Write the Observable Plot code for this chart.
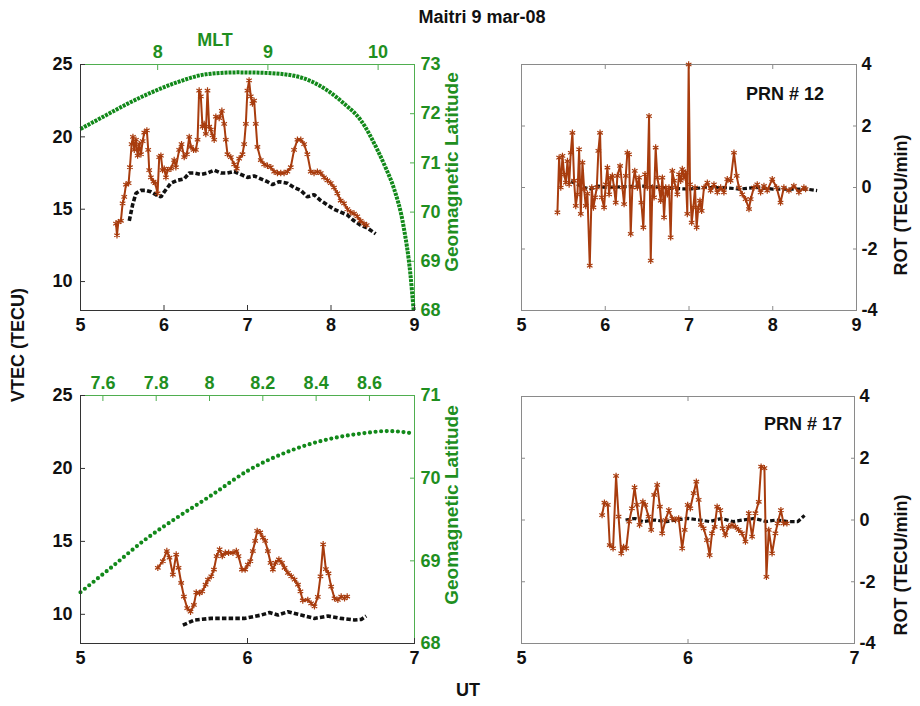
<!DOCTYPE html>
<html><head><meta charset="utf-8">
<script src="https://cdn.jsdelivr.net/npm/d3@7"></script>
<script src="https://cdn.jsdelivr.net/npm/@observablehq/plot@0.6"></script>
<style>
body{margin:0;background:#fff;}
#fig{position:relative;width:920px;height:706px;background:#fff;font-family:'Liberation Sans',Arial,sans-serif;font-weight:bold;}
.lbl{position:absolute;white-space:nowrap;font-weight:bold;transform:translate(-50%,-50%);}
.rot{transform:translate(-50%,-50%) rotate(-90deg);}
</style></head><body><div id="fig"></div>
<script>
// ---------- texts / ticks ----------
const title = "Maitri 9 mar-08";
const utTicksA = [5, 6, 7, 8, 9];
const utTicksB = [5, 6, 7];
const vtecTicks = [10, 15, 20, 25];
const latTicksA = [68, 69, 70, 71, 72, 73];
const latTicksB = [68, 69, 70, 71];
const rotTicks = [-4, -2, 0, 2, 4];
const mltTicksA = [8, 9, 10];
const mltTicksB = [7.6, 7.8, 8, 8.2, 8.4, 8.6];
const mltRangeA = [7.30, 10.33];   // MLT at UT 5 and UT 9 (top-left panel)
const mltRangeB = [7.516, 8.769];  // MLT at UT 5 and UT 7 (bottom-left panel)

// ---------- PRN 12 ----------
const vtec12 = [[5.425,14.0],[5.437,13.2],[5.453,14.1],[5.484,14.2],[5.504,15.4],[5.524,15.85],[5.544,16.7],[5.576,16.8],[5.592,17.9],[5.612,19.5],[5.628,20.0],[5.644,19.1],[5.664,19.8],[5.684,18.7],[5.704,19.5],[5.724,18.8],[5.744,19.7],[5.764,20.3],[5.795,20.45],[5.811,19.1],[5.823,17.7],[5.843,17.2],[5.875,16.9],[5.895,16.8],[5.923,16.1],[5.943,18.6],[5.963,18.7],[5.983,17.7],[6.003,17.8],[6.023,17.2],[6.043,17.7],[6.083,17.8],[6.122,18.4],[6.142,17.9],[6.182,19.1],[6.210,19.5],[6.242,18.6],[6.274,18.8],[6.302,20.0],[6.322,19.3],[6.354,19.1],[6.382,19.1],[6.402,19.8],[6.421,23.2],[6.441,22.8],[6.461,20.7],[6.481,20.9],[6.501,20.2],[6.521,23.2],[6.541,20.7],[6.561,20.5],[6.581,20.1],[6.601,19.8],[6.621,21.4],[6.661,21.3],[6.693,21.8],[6.721,20.9],[6.740,19.8],[6.760,18.8],[6.800,18.6],[6.840,18.1],[6.872,17.8],[6.900,18.5],[6.940,18.8],[6.960,19.5],[6.980,20.9],[6.999,23.2],[7.019,23.9],[7.039,22.8],[7.059,22.3],[7.079,22.5],[7.099,20.9],[7.119,19.3],[7.159,18.4],[7.199,18.1],[7.239,18.0],[7.279,17.9],[7.319,17.6],[7.359,17.5],[7.398,17.5],[7.438,17.5],[7.478,17.6],[7.518,17.9],[7.558,19.1],[7.598,19.8],[7.638,19.8],[7.678,19.5],[7.717,18.8],[7.757,17.6],[7.797,17.5],[7.837,17.6],[7.877,17.5],[7.917,17.2],[7.957,17.0],[7.997,16.8],[8.036,16.5],[8.076,16.1],[8.116,15.6],[8.156,15.4],[8.196,15.0],[8.236,14.8],[8.276,14.7],[8.315,14.5],[8.355,14.2],[8.395,14.0],[8.427,13.9]];
const base12 = [[5.584,14.2],[5.624,15.3],[5.664,16.1],[5.724,16.3],[5.783,16.3],[5.843,16.2],[5.903,16.0],[5.963,15.85],[6.003,16.2],[6.083,16.8],[6.162,17.0],[6.242,17.1],[6.302,17.5],[6.362,17.5],[6.441,17.4],[6.521,17.5],[6.601,17.7],[6.681,17.5],[6.760,17.5],[6.840,17.6],[6.920,17.4],[6.999,17.2],[7.079,17.3],[7.159,17.1],[7.239,16.9],[7.299,16.7],[7.379,16.9],[7.478,16.8],[7.558,16.5],[7.638,16.3],[7.717,15.85],[7.797,16.0],[7.877,15.6],[7.957,15.3],[8.036,15.0],[8.116,14.8],[8.196,14.6],[8.276,14.2],[8.355,13.9],[8.435,13.7],[8.535,13.3]];
const lat12 = [[5.0,71.69],[5.285,71.95],[5.56,72.2],[5.86,72.44],[6.16,72.64],[6.5,72.8],[6.88,72.84],[7.2,72.83],[7.56,72.77],[7.96,72.47],[8.16,72.2],[8.36,71.86],[8.56,71.25],[8.66,70.88],[8.75,70.5],[8.87,69.7],[8.95,68.75],[8.99,68.0]];
const rot12 = [[5.429,-0.81],[5.449,0.97],[5.469,0],[5.489,1.03],[5.509,0.43],[5.529,0.16],[5.549,0.86],[5.569,0.1],[5.588,1.13],[5.608,1.78],[5.628,0.22],[5.648,-0.6],[5.668,-0.22],[5.688,1.24],[5.708,-0.86],[5.728,0.81],[5.748,-0.05],[5.767,-0.6],[5.787,-0.2],[5.815,-2.54],[5.839,0],[5.859,-0.65],[5.879,-0.32],[5.899,0],[5.918,1.19],[5.938,1.78],[5.958,-0.32],[5.986,-0.65],[6.006,0.1],[6.026,0.65],[6.046,-0.22],[6.066,0.32],[6.085,0.38],[6.105,0],[6.125,-0.49],[6.145,0.38],[6.177,0.7],[6.205,0],[6.225,-0.54],[6.245,0.38],[6.264,1.13],[6.284,1.08],[6.304,-1.51],[6.324,0],[6.352,0.54],[6.384,0],[6.404,0.32],[6.431,-0.49],[6.455,-1.3],[6.475,0.43],[6.503,0],[6.523,2.32],[6.543,-2.38],[6.563,0],[6.583,-0.32],[6.602,1.3],[6.622,0.32],[6.642,0],[6.662,-0.43],[6.682,0.32],[6.702,-0.97],[6.722,0],[6.742,-0.22],[6.761,0],[6.781,-1.62],[6.801,0.54],[6.821,0.22],[6.841,0],[6.861,-0.22],[6.881,0.43],[6.901,0.22],[6.920,0.6],[6.940,0.32],[6.960,0.49],[6.980,-0.86],[6.996,4.0],[7.012,0.1],[7.032,-1.14],[7.052,-0.65],[7.072,0],[7.091,-1.3],[7.111,-0.65],[7.131,-0.43],[7.151,-0.76],[7.179,0],[7.219,0.16],[7.258,-0.1],[7.298,0.1],[7.338,-0.16],[7.378,0],[7.417,-0.16],[7.457,0.27],[7.497,0.22],[7.537,1.13],[7.569,0.38],[7.596,0],[7.636,-0.22],[7.676,-0.38],[7.716,-0.7],[7.736,-0.38],[7.775,0],[7.815,0.1],[7.855,-0.16],[7.895,0.05],[7.934,-0.1],[7.994,0.27],[8.046,0],[8.093,-0.49],[8.133,0],[8.193,-0.1],[8.252,0.05],[8.312,-0.16],[8.372,0],[8.392,-0.05]];
const rotBase12 = [[5.59,0.2],[5.67,0.1],[5.75,0.0],[5.83,-0.05],[5.91,0.05],[6.0,0.0],[6.2,0.02],[6.4,0.05],[6.6,0.02],[6.8,-0.03],[7.0,-0.05],[7.2,0.0],[7.4,0.0],[7.6,-0.05],[7.8,0.0],[8.0,-0.05],[8.2,-0.05],[8.4,-0.05],[8.53,-0.1]];

// ---------- PRN 17 ----------
const vtec17 = [[5.463,13.19],[5.493,13.64],[5.517,14.34],[5.533,13.88],[5.553,12.72],[5.573,14.1],[5.587,13.19],[5.603,12.15],[5.619,11.22],[5.639,10.42],[5.659,10.18],[5.679,10.64],[5.693,11.5],[5.713,11.45],[5.729,11.57],[5.749,12.03],[5.763,12.38],[5.783,12.61],[5.799,13.07],[5.815,13.99],[5.833,14.45],[5.849,13.99],[5.867,14.22],[5.887,14.22],[5.913,14.22],[5.933,14.34],[5.946,13.99],[5.967,13.07],[5.986,13.07],[6.002,13.41],[6.017,13.64],[6.032,14.34],[6.046,15.03],[6.058,15.72],[6.076,15.61],[6.092,15.26],[6.106,15.03],[6.122,14.34],[6.138,13.53],[6.152,13.07],[6.168,13.53],[6.188,13.76],[6.206,13.53],[6.222,13.19],[6.242,12.84],[6.262,12.61],[6.282,12.38],[6.302,12.03],[6.317,11.57],[6.331,10.95],[6.361,10.99],[6.381,10.75],[6.401,10.55],[6.421,11.2],[6.437,12.6],[6.453,14.8],[6.469,13.1],[6.485,12.8],[6.501,11.9],[6.521,11.1],[6.541,10.99],[6.561,11.22],[6.581,11.1],[6.597,11.22]];
const base17 = [[5.613,9.26],[5.683,9.61],[5.782,9.72],[5.882,9.72],[5.982,9.72],[6.082,9.95],[6.132,10.12],[6.182,9.95],[6.242,10.18],[6.321,9.95],[6.401,9.72],[6.481,9.88],[6.561,9.72],[6.641,9.61],[6.681,9.65],[6.711,9.88]];
const lat17 = [[5.0,68.62],[5.184,68.92],[5.383,69.25],[5.583,69.53],[5.782,69.79],[6.002,70.09],[6.281,70.35],[6.481,70.47],[6.681,70.54],[6.84,70.57],[7.0,70.54]];
const rot17 = [[5.484,0.16],[5.498,0.56],[5.518,0.49],[5.53,-0.81],[5.55,-0.92],[5.568,1.43],[5.583,0.11],[5.599,-1.08],[5.613,-0.87],[5.629,-0.92],[5.647,-0.05],[5.663,0.38],[5.679,1.06],[5.693,0.49],[5.709,-0.16],[5.729,0.59],[5.743,0.49],[5.763,0.11],[5.779,-0.32],[5.797,0.81],[5.815,1.14],[5.831,0.43],[5.845,-0.43],[5.865,0.0],[5.885,0.32],[5.905,0.05],[5.925,0.0],[5.944,0.05],[5.965,-0.92],[5.98,-0.32],[5.998,0.49],[6.014,0.38],[6.034,0.87],[6.05,1.24],[6.064,0.65],[6.078,-0.16],[6.094,-0.27],[6.114,-0.65],[6.13,-1.14],[6.144,-0.43],[6.16,-0.22],[6.175,0.43],[6.194,0.32],[6.208,-0.27],[6.224,-0.49],[6.244,-0.22],[6.264,-0.16],[6.284,-0.22],[6.304,-0.32],[6.324,-0.43],[6.345,-0.7],[6.365,0.22],[6.385,-0.54],[6.405,0.22],[6.425,0.59],[6.439,1.73],[6.459,1.68],[6.471,-1.84],[6.485,-0.32],[6.505,-1.08],[6.525,-0.43],[6.538,-0.11],[6.558,0.32],[6.574,-0.11],[6.594,-0.11]];
const rotBase17 = [[5.625,0.0],[5.68,0.05],[5.73,-0.05],[5.80,0.0],[5.87,-0.05],[5.93,0.0],[6.0,0.05],[6.07,0.0],[6.13,-0.05],[6.2,0.05],[6.27,-0.05],[6.33,0.0],[6.40,0.05],[6.47,-0.05],[6.53,0.0],[6.6,-0.05],[6.66,-0.05],[6.70,0.15]];

// ---------- style ----------
const BROWN = "#a83c0e", GREEN = "#12891a", GTEXT = "#1f8f1f", GFRAME = "#4fae4f", DARK = "#333", GRAY = "#8a8a8a";
const FONT = "'Liberation Sans', Arial, sans-serif";
const fig = document.getElementById("fig");
const X = d => d[0], Y = d => d[1];
const fmt = d => String(d);

function layer(box, opts) {
  const [left, top, w, h, mt, mr, mb, ml] = box;
  const svg = Plot.plot({width: w, height: h, marginTop: mt, marginRight: mr, marginBottom: mb, marginLeft: ml,
    style: {fontFamily: FONT, fontSize: "18px", fontWeight: "bold", background: "transparent", overflow: "visible"}, ...opts});
  Object.assign(svg.style, {position: "absolute", left: left + "px", top: top + "px"});
  fig.appendChild(svg);
}
function label(text, x, y, opts = {}) {
  const d = document.createElement("div");
  d.className = "lbl" + (opts.rot ? " rot" : "");
  d.textContent = text;
  Object.assign(d.style, {left: x + "px", top: y + "px", fontSize: (opts.size || 18) + "px", color: opts.color || "#111"});
  fig.appendChild(d);
}

const TL = [0, 30, 460, 315, 34, 46, 35, 80];
const TR = [460, 30, 460, 315, 34, 64, 35, 61];
const BL = [0, 365, 460, 315, 30, 46, 37, 80];
const BR = [460, 365, 460, 315, 31, 66, 37, 61];

const dashBlack = {stroke: "#111", strokeWidth: 3.6, strokeDasharray: "4.5,2.2", strokeLinecap: "butt", strokeLinejoin: "miter"};

function leftPanel(box, utTicks, latTicks, mltTicks, mltRange, lat, vtec, base, latDash) {
  const xd = [utTicks[0], utTicks[utTicks.length - 1]];
  // latitude layer
  layer(box, {x: {domain: xd, axis: null}, y: {domain: [latTicks[0], latTicks[latTicks.length - 1]]}, marks: [
    Plot.frame({anchor: "top", stroke: GFRAME}),
    Plot.frame({anchor: "right", stroke: GFRAME}),
    Plot.axisY({anchor: "right", ticks: latTicks, tickFormat: fmt, tickSize: -5, tickPadding: 11, stroke: GFRAME, fill: GTEXT}),
    Plot.line(lat, {x: X, y: Y, stroke: GREEN, ...latDash, curve: "monotone-x"})
  ]});
  // MLT axis layer
  layer(box, {x: {domain: mltRange}, marks: [
    Plot.axisX({anchor: "top", ticks: mltTicks, tickFormat: fmt, tickSize: -5, tickPadding: 12, stroke: GFRAME, fill: GTEXT})
  ]});
  // VTEC layer
  layer(box, {x: {domain: xd}, y: {domain: [8, 25]}, marks: [
    Plot.frame({anchor: "left", stroke: DARK}),
    Plot.frame({anchor: "bottom", stroke: DARK}),
    Plot.axisX({anchor: "bottom", ticks: utTicks, tickFormat: fmt, tickSize: -5, tickPadding: 13, stroke: DARK, fill: "#111"}),
    Plot.axisY({anchor: "left", ticks: vtecTicks, tickFormat: fmt, tickSize: -5, tickPadding: 13, stroke: DARK, fill: "#111"}),
    Plot.line(base, {x: X, y: Y, ...dashBlack}),
    Plot.line(vtec, {x: X, y: Y, stroke: BROWN, strokeWidth: 2}),
    Plot.dot(vtec, {x: X, y: Y, symbol: "asterisk", r: 3, stroke: BROWN, strokeWidth: 1.2})
  ]});
}
function rightPanel(box, utTicks, rot, base) {
  const xd = [utTicks[0], utTicks[utTicks.length - 1]];
  layer(box, {x: {domain: xd}, y: {domain: [-4, 4]}, marks: [
    Plot.frame({stroke: GRAY}),
    Plot.axisX({anchor: "bottom", ticks: utTicks, tickFormat: fmt, tickSize: -4, tickPadding: 12, stroke: GRAY, fill: "#111"}),
    Plot.axisX({anchor: "top", ticks: utTicks, tickSize: -4, stroke: GRAY, fill: "none"}),
    Plot.axisY({anchor: "right", ticks: rotTicks, tickFormat: fmt, tickSize: -4, tickPadding: 9, stroke: GRAY, fill: "#111"}),
    Plot.axisY({anchor: "left", ticks: rotTicks, tickSize: -4, stroke: GRAY, fill: "none"}),
    Plot.line(base, {x: X, y: Y, ...dashBlack, strokeWidth: 3.2}),
    Plot.line(rot, {x: X, y: Y, stroke: BROWN, strokeWidth: 2}),
    Plot.dot(rot, {x: X, y: Y, symbol: "asterisk", r: 3, stroke: BROWN, strokeWidth: 1.2})
  ]});
}

leftPanel(TL, utTicksA, latTicksA, mltTicksA, mltRangeA, lat12, vtec12, base12, {strokeWidth: 4, strokeDasharray: "3,1", strokeLinecap: "butt"});
leftPanel(BL, utTicksB, latTicksB, mltTicksB, mltRangeB, lat17, vtec17, base17, {strokeWidth: 4.2, strokeDasharray: "0,5.6", strokeLinecap: "round"});
rightPanel(TR, utTicksA, rot12, rotBase12);
rightPanel(BR, utTicksB, rot17, rotBase17);

label(title, 482, 17, {size: 18});
label("MLT", 215, 40, {color: GTEXT});
label("VTEC (TECU)", 18, 345, {rot: true});
label("Geomagnetic Latitude", 452, 172, {rot: true, size: 19, color: GTEXT});
label("Geomagnetic Latitude", 452, 505, {rot: true, size: 19, color: GTEXT});
label("ROT (TECU/min)", 901, 205, {rot: true});
label("ROT (TECU/min)", 901, 565, {rot: true});
label("UT", 468, 690);
label("PRN # 12", 785, 94);
label("PRN # 17", 803, 424);
</script></body></html>
